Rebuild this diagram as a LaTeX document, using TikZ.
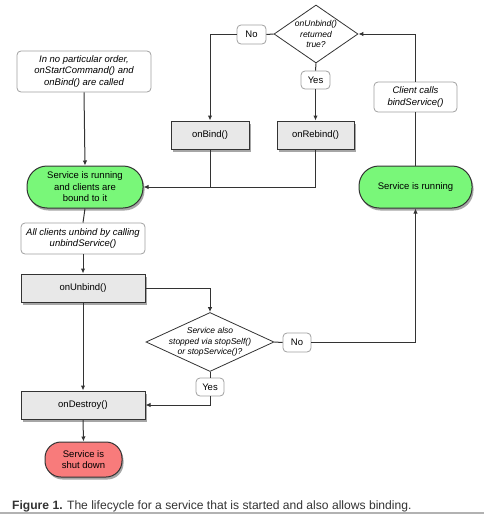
\documentclass[tikz,border=0pt]{standalone}
\usepackage{fontspec}
\setmainfont{Liberation Sans}
\usetikzlibrary{shapes.geometric,shadows,arrows.meta}
\definecolor{greenfill}{HTML}{79F779}
\definecolor{redfill}{HTML}{F87B7B}
\definecolor{boxfill}{HTML}{E8E8E8}
\definecolor{linec}{HTML}{333333}
\definecolor{lblborder}{HTML}{A0A0A0}
\begin{document}
\begin{tikzpicture}[x=1pt,y=-1pt,
  font=\fontsize{9.5}{11.5}\selectfont,
  shd/.style={drop shadow={shadow xshift=1.5pt,shadow yshift=-2.5pt,opacity=0.35,fill=black}},
  procbox/.style={draw=linec,line width=1pt,fill=boxfill,shd,minimum height=28pt,inner sep=0pt,align=center},
  lblbox/.style={draw=lblborder,line width=0.8pt,fill=white,rounded corners=4pt,inner sep=0pt,align=center,font=\fontsize{9.5}{11.5}\selectfont\itshape},
  ynbox/.style={draw=lblborder,line width=0.8pt,fill=white,rounded corners=4pt,inner sep=0pt,align=center},
  statebox/.style={draw=linec,line width=1pt,shd,inner sep=0pt,align=center},
  dia/.style={draw=linec,line width=0.8pt,fill=white,diamond,inner sep=0pt},
  diatext/.style={inner sep=0pt,align=center,font=\fontsize{8.5}{10.5}\selectfont\itshape},
  conn/.style={draw=linec,line width=1pt},
  arr/.style={conn,-{Latex[length=5pt,width=4.5pt]}}
]
\useasboundingbox (0,0) rectangle (484,514);

% nodes
\node[lblbox,minimum width=134pt,minimum height=41pt] (startlbl) at (84,71.5) {In no particular order,\\onStartCommand() and\\onBind() are called};
\node[statebox,fill=greenfill,rounded corners=20pt,minimum width=116pt,minimum height=42pt] (bound) at (85,187) {Service is running\\and clients are\\bound to it};
\node[lblbox,minimum width=124pt,minimum height=31pt] (unbindlbl) at (83,238.5) {All clients unbind by calling\\unbindService()};
\node[procbox,minimum width=124pt] (onunbind) at (83,288) {onUnbind()};
\node[dia,minimum width=128pt,minimum height=59pt] (d2) at (210,342) {};
\node[diatext] (d2t) at (d2.center) {Service also\\stopped via stopSelf()\\or stopService()?};
\node[ynbox,minimum width=28pt,minimum height=18pt] (yes2) at (210,387) {Yes};
\node[ynbox,minimum width=28pt,minimum height=19pt] (no2) at (297,342.5) {No};
\node[procbox,minimum width=124pt] (ondestroy) at (83,405) {onDestroy()};
\node[statebox,fill=redfill,rounded corners=16pt,minimum width=77pt,minimum height=35pt] (shut) at (83.5,459.5) {Service is\\shut down};

\node[dia,minimum width=84pt,minimum height=58pt] (d1) at (316,34) {};
\node[diatext] (d1t) at (d1.center) {onUnbind()\\returned\\true?};
\node[ynbox,minimum width=29pt,minimum height=19pt] (no1) at (251.5,34.5) {No};
\node[ynbox,minimum width=29pt,minimum height=18pt] (yes1) at (315.5,80) {Yes};
\node[procbox,minimum width=78pt] (onbind) at (210,135) {onBind()};
\node[procbox,minimum width=77pt] (onrebind) at (315.5,135) {onRebind()};
\node[lblbox,minimum width=83pt,minimum height=30pt] (clientlbl) at (415.5,97) {Client calls\\bindService()};
\node[statebox,fill=greenfill,rounded corners=20pt,minimum width=113pt,minimum height=42pt] (running) at (415.5,187) {Service is running};

\node[anchor=base west,inner sep=0pt,text=linec,font=\fontsize{12.1}{14}\selectfont] (caption) at (12,509) {\textbf{Figure 1.} The lifecycle for a service that is started and also allows binding.};

% connectors
\draw[arr] (startlbl.south) -- (bound.north);
\draw[conn] (bound.south) -- (unbindlbl.north);
\draw[arr] (unbindlbl.south) -- (onunbind.north);
\draw[arr] (onunbind.east) -| (d2.north);
\draw[arr] (onunbind.south) -- (ondestroy.north);
\draw[conn] (d2.south) -- (yes2.north);
\draw[arr] (yes2.south) |- (ondestroy.east);
\draw[arr] (ondestroy.south) -- (shut.north);
\draw[conn] (d2.east) -- (no2.west);
\draw[arr] (no2.east) -| (running.south);
\draw[conn] (running.north) -- (clientlbl.south);
\draw[arr] (clientlbl.north) |- (d1.east);
\draw[conn] (d1.west) -- (no1.east);
\draw[arr] (no1.west) -| (onbind.north);
\draw[conn] (d1.south) -- (yes1.north);
\draw[arr] (yes1.south) -- (onrebind.north);
\draw[conn] (onbind.south) -- (onbind.south |- bound.east);
\draw[arr] (onrebind.south) |- (bound.east);

% bottom rule
\coordinate (ruleL) at (0,513);
\coordinate (ruleR) at (484,513);
\draw[draw=black!30,line width=1.5pt] (ruleL) -- (ruleR);
\end{tikzpicture}
\end{document}
